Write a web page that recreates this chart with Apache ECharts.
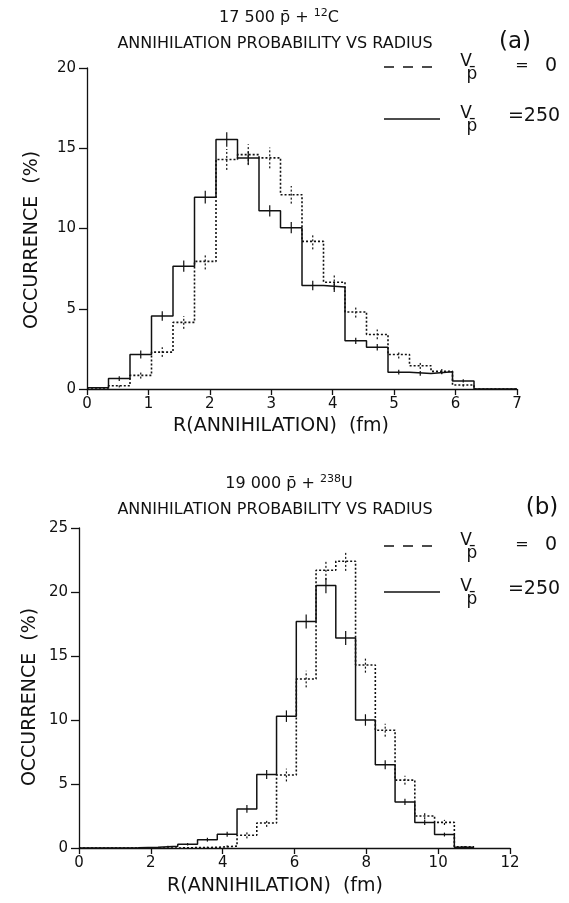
<!DOCTYPE html>
<html><head><meta charset="utf-8">
<script src="https://cdn.jsdelivr.net/npm/echarts@6/dist/echarts.min.js"></script>
<style>html,body{margin:0;padding:0;background:#fff}#c{width:569px;height:903px}</style>
</head><body><div id="c"></div>
<script>
// ---------- Panel (a): 17 500 pbar + 12C ----------
const edgesA = [0,0.35,0.7,1.05,1.4,1.75,2.1,2.45,2.8,3.15,3.5,3.85,4.2,4.55,4.9,5.25,5.6,5.95,6.3,6.65,7.0];
const solidA = [0.08,0.65,2.15,4.55,7.65,11.95,15.55,14.4,11.1,10.05,6.45,6.35,3.0,2.6,1.05,0.97,1.07,0.5,0,0];
const dashA  = [0,0.2,0.85,2.3,4.15,7.95,14.3,14.6,14.4,12.1,9.2,6.65,4.8,3.4,2.15,1.45,1.1,0.25,0,0];
const errSolidA = [0.03,0.15,0.25,0.3,0.35,0.4,0.45,0.4,0.35,0.35,0.3,0.3,0.2,0.2,0.15,0.15,0.15,0.1,0,0];
const errDashA  = [0,0.1,0.2,0.3,0.4,0.5,0.65,0.65,0.65,0.55,0.5,0.45,0.35,0.3,0.25,0.2,0.15,0.1,0,0];
const xTicksA = [0,1,2,3,4,5,6,7];
const yTicksA = [0,5,10,15,20];

// ---------- Panel (b): 19 000 pbar + 238U ----------
const edgesB = [0,0.55,1.1,1.65,2.2,2.75,3.3,3.85,4.4,4.95,5.5,6.05,6.6,7.15,7.7,8.25,8.8,9.35,9.9,10.45,11.0];
const solidB = [0,0,0.02,0.05,0.13,0.3,0.65,1.07,3.05,5.75,10.3,17.7,20.5,16.4,10.0,6.5,3.6,2.0,1.05,0.05];
const dashB  = [0,0,0,0,0,0.03,0.05,0.15,1.0,1.95,5.7,13.2,21.7,22.4,14.3,9.2,5.3,2.5,2.0,0.1];
const errSolidB = [0,0,0,0.02,0.05,0.1,0.15,0.2,0.3,0.35,0.45,0.55,0.6,0.55,0.45,0.35,0.25,0.2,0.15,0.02];
const errDashB  = [0,0,0,0,0,0.03,0.05,0.1,0.25,0.3,0.5,0.65,0.75,0.75,0.6,0.5,0.35,0.25,0.2,0.05];
const xTicksB = [0,2,4,6,8,10,12];
const yTicksB = [0,5,10,15,20,25];

const FONT = 'DejaVu Sans';

function stepData(edges, vals) {
  const d = [];
  for (let i = 0; i < vals.length; i++) d.push([edges[i], vals[i]]);
  d.push([edges[vals.length], vals[vals.length - 1]]);
  return d;
}
function errData(edges, vals, errs) {
  const d = [];
  for (let i = 0; i < vals.length; i++) {
    if (errs[i] > 0) d.push([(edges[i] + edges[i + 1]) / 2, vals[i] - errs[i], vals[i] + errs[i]]);
  }
  return d;
}
function errSeries(xi, yi, data, dashed) {
  return {
    type: 'custom', xAxisIndex: xi, yAxisIndex: yi, data: data, silent: true,
    renderItem: function (params, api) {
      const p1 = api.coord([api.value(0), api.value(1)]);
      const p2 = api.coord([api.value(0), api.value(2)]);
      return { type: 'line', shape: { x1: p1[0], y1: p1[1], x2: p2[0], y2: p2[1] },
        style: { stroke: '#111', lineWidth: 1.2, lineDash: dashed ? [2, 2] : null } };
    }
  };
}
function xAx(gi, ticks) {
  return {
    type: 'value', gridIndex: gi, min: ticks[0], max: ticks[ticks.length - 1], interval: ticks[1] - ticks[0],
    axisLine: { show: true, lineStyle: { color: '#111', width: 1.3 } },
    axisTick: { show: true, inside: false, length: 6, lineStyle: { color: '#111', width: 1.3 } },
    axisLabel: { fontFamily: FONT, fontSize: 15, color: '#111', margin: 8 },
    splitLine: { show: false }
  };
}
function yAx(gi, ticks) {
  return {
    type: 'value', gridIndex: gi, min: ticks[0], max: ticks[ticks.length - 1], interval: ticks[1] - ticks[0],
    axisLine: { show: true, lineStyle: { color: '#111', width: 1.3 } },
    axisTick: { show: true, inside: false, length: 8, lineStyle: { color: '#111', width: 1.3 } },
    axisLabel: { fontFamily: FONT, fontSize: 15, color: '#111', margin: 11 },
    splitLine: { show: false }
  };
}
function stepSeries(xi, yi, data, dashed) {
  return {
    type: 'line', xAxisIndex: xi, yAxisIndex: yi, data: data, step: 'end',
    symbol: 'none', silent: true,
    lineStyle: { color: '#111', width: dashed ? 1.6 : 1.5, type: dashed ? [2, 2] : 'solid' }
  };
}

const chart = echarts.init(document.getElementById('c'), null, { renderer: 'canvas' });

const txt = (x, y, text, size, extra) => Object.assign({
  type: 'text', x: x, y: y,
  style: Object.assign({ text: text, fontFamily: FONT, fontSize: size, fill: '#111', textAlign: 'center', textVerticalAlign: 'middle' }, extra || {})
});
const seg = (x1, y1, x2, y2, dash) => ({
  type: 'line', shape: { x1: x1, y1: y1, x2: x2, y2: y2 },
  style: { stroke: '#111', lineWidth: 1.3, lineDash: dash || null }
});

function titleBlock(cx, y1, line1, sup, tail, cx2, y2, tag, tagX) {
  return [
    { type: 'text', x: cx, y: y1, style: {
      text: line1 + '{s|' + sup + '}' + tail, fontFamily: FONT, fontSize: 16, fill: '#111',
      textAlign: 'center', textVerticalAlign: 'middle',
      rich: { s: { fontSize: 11, fontFamily: FONT, fill: '#111', verticalAlign: 'top', lineHeight: 20 } }
    } },
    txt(cx2, y2, 'ANNIHILATION PROBABILITY VS RADIUS', 16),
    txt(tagX, y2 - 2, tag, 23)
  ];
}
function legendBlock(y1, y2) {
  return [
    seg(384, y1, 440, y1, [10, 9]),
    txt(466, y1 - 5, 'V', 17), txt(472, y1 + 8, 'p\u0304', 17),
    txt(522, y1 - 1, '=', 16), txt(551, y1 - 1, '0', 19),
    seg(384, y2, 440, y2),
    txt(466, y2 - 5, 'V', 17), txt(472, y2 + 8, 'p\u0304', 17),
    txt(534, y2 - 3, '=250', 19)
  ];
}
function axisNames(xcx, xcy, ycx, ycy) {
  return [
    txt(xcx, xcy, 'R(ANNIHILATION)  (fm)', 19),
    { type: 'text', x: ycx, y: ycy, rotation: Math.PI / 2,
      style: { text: 'OCCURRENCE  (%)', fontFamily: FONT, fontSize: 19, fill: '#111', textAlign: 'center', textVerticalAlign: 'middle' } }
  ];
}

const option = {
  animation: false,
  backgroundColor: '#fff',
  grid: [
    { left: 87, top: 68, width: 430, height: 321 },
    { left: 79, top: 528, width: 431, height: 320 }
  ],
  xAxis: [xAx(0, xTicksA), xAx(1, xTicksB)],
  yAxis: [yAx(0, yTicksA), yAx(1, yTicksB)],
  series: [
    stepSeries(0, 0, stepData(edgesA, solidA), false),
    stepSeries(0, 0, stepData(edgesA, dashA), true),
    errSeries(0, 0, errData(edgesA, solidA, errSolidA), false),
    errSeries(0, 0, errData(edgesA, dashA, errDashA), true),
    stepSeries(1, 1, stepData(edgesB, solidB), false),
    stepSeries(1, 1, stepData(edgesB, dashB), true),
    errSeries(1, 1, errData(edgesB, solidB, errSolidB), false),
    errSeries(1, 1, errData(edgesB, dashB, errDashB), true)
  ],
  graphic: [].concat(
    titleBlock(279, 18, '17 500 p\u0304 + ', '12', 'C', 275, 44, '(a)', 515),
    titleBlock(289, 484, '19 000 p\u0304 + ', '238', 'U', 275, 510, '(b)', 542),
    legendBlock(67, 119),
    legendBlock(546, 592),
    axisNames(281, 426, 32, 240),
    axisNames(275, 886, 30, 697)
  )
};
chart.setOption(option);
</script>
</body></html>
